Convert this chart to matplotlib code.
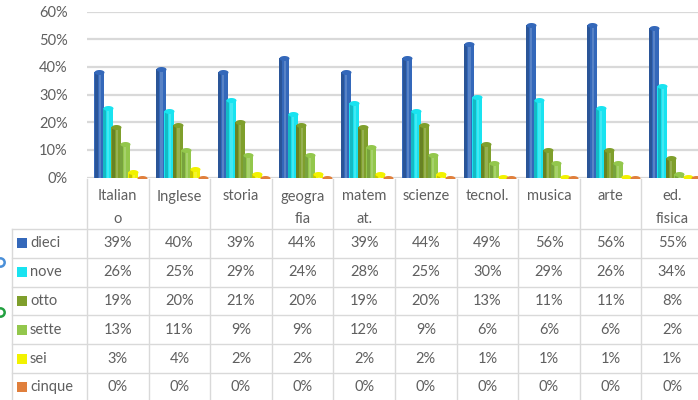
import numpy as np
import matplotlib.pyplot as plt
from matplotlib.path import Path

plt.rcParams['font.family'] = ['Lato', 'DejaVu Sans']

# data
# ---
materie = ['Italian\no', 'Inglese', 'storia', 'geogra\nfia', 'matem\nat.',
           'scienze', 'tecnol.', 'musica', 'arte', 'ed.\nfisica']
voti = ['dieci', 'nove', 'otto', 'sette', 'sei', 'cinque']

dieci = [39, 40, 39, 44, 39, 44, 49, 56, 56, 55]
nove = [26, 25, 29, 24, 28, 25, 30, 29, 26, 34]
otto = [19, 20, 21, 20, 19, 20, 13, 11, 11, 8]
sette = [13, 11, 9, 9, 12, 9, 6, 6, 6, 2]
sei = [3, 4, 2, 2, 2, 2, 1, 1, 1, 1]
cinque = [0, 0, 0, 0, 0, 0, 0, 0, 0, 0]
serie = [dieci, nove, otto, sette, sei, cinque]

yticks = [0, 10, 20, 30, 40, 50, 60]

colori = ['#3468ba', '#19e3f0', '#7f9f2c', '#93c74c', '#f2f200', '#e07f3c']
grigio = '#5f5f5f'
linea = '#d9d9d9'

# figure layout (pixels)
# ---
W, H = 698, 400
fig = plt.figure(figsize=(W / 100, H / 100), dpi=100)

x0_px = 87        # left edge of first category
cat_px = 61.6     # width of one category column
top_px, base_px = 11.5, 177.5

ax = fig.add_axes([x0_px / W, 1 - base_px / H, 10 * cat_px / W, (base_px - top_px) / H])
ax.set_xlim(-0.5, 9.5)
ax.set_ylim(0, 60)
ax.set_yticks(yticks)
ax.set_yticklabels([str(t) + '%' for t in yticks], color=grigio, fontsize=10.5)
ax.tick_params(axis='y', length=0, pad=14)
ax.set_xticks([])
ax.yaxis.grid(True, color=linea, lw=1.6)
ax.set_axisbelow(True)
for s in ax.spines.values():
    s.set_visible(False)
ax.patch.set_alpha(0)

# ellipse marker used for the rounded tops
t = np.linspace(0, 2 * np.pi, 40)
ellisse = Path(np.column_stack([np.cos(t), 0.5 * np.sin(t)]))

x = np.arange(len(materie))
bar_w = 10 / cat_px
step = 8.5 / cat_px
off0 = -18.5 / cat_px
hy = 0.9     # half height of the cap in % units

for i, (vals, col) in enumerate(zip(serie, colori)):
    v = np.array(vals, dtype=float)
    xi = x + off0 + i * step
    h = np.maximum(v - hy, 0)
    ax.bar(xi, h, width=bar_w, color=col, zorder=3 + i, lw=0)
    # darker left shade and light highlight for a cylinder look
    ax.bar(xi - bar_w * 0.32, h, width=bar_w * 0.3, color='black', alpha=0.18, zorder=3 + i, lw=0)
    ax.bar(xi + bar_w * 0.05, h, width=bar_w * 0.22, color='white', alpha=0.18, zorder=3 + i, lw=0)
    ax.plot(xi, h, ls='none', marker=ellisse, ms=10 * 0.72, color=col, mew=0, zorder=3 + i)

# data table
# ---
tab_top = base_px
tab = fig.add_axes([0, 0, 1, 1 - tab_top / H])
tab.set_xlim(-0.5 - x0_px / cat_px, -0.5 - x0_px / cat_px + W / cat_px)
tab.set_ylim(H - tab_top, 0)
tab.axis('off')

head_h = 51.5
row_h = 28.8
leg_left = -0.5 - (x0_px - 12) / cat_px
fig_left = -0.5 - x0_px / cat_px

# vertical lines
for k in range(len(materie) + 1):
    tab.plot([k - 0.5, k - 0.5], [1, H], color=linea, lw=1)
tab.plot([leg_left, leg_left], [head_h, H], color=linea, lw=1)
# horizontal lines
for r in range(len(voti)):
    yy = head_h + r * row_h
    tab.plot([leg_left, 10], [yy, yy], color=linea, lw=1)

# header labels
for k, lab in enumerate(materie):
    for j, part in enumerate(lab.split('\n')):
        tab.text(k, 19 + j * 22.5, part, ha='center', va='center', color=grigio, fontsize=10.5)

# rows
for r, (nome, vals, col) in enumerate(zip(voti, serie, colori)):
    yc = head_h + (r + 0.5) * row_h
    tab.plot(leg_left + 10.5 / cat_px, yc, marker='s', ms=6.5, color=col, mew=0)
    tab.text(leg_left + 18 / cat_px, yc, nome, ha='left', va='center', color=grigio, fontsize=10.5)
    for k, v in enumerate(vals):
        tab.text(k, yc, str(v) + '%', ha='center', va='center', color=grigio, fontsize=10.5)

# selection handles cut off at the left edge
tab.plot(fig_left + 0.5 / cat_px, 84, marker='o', ms=6, mfc='none', mec='#4a8fd8', mew=1.8, clip_on=False)
tab.plot(fig_left + 0.5 / cat_px, 134, marker='o', ms=6, mfc='none', mec='#22a040', mew=1.8, clip_on=False)

fig.savefig('out.png', dpi=100)
